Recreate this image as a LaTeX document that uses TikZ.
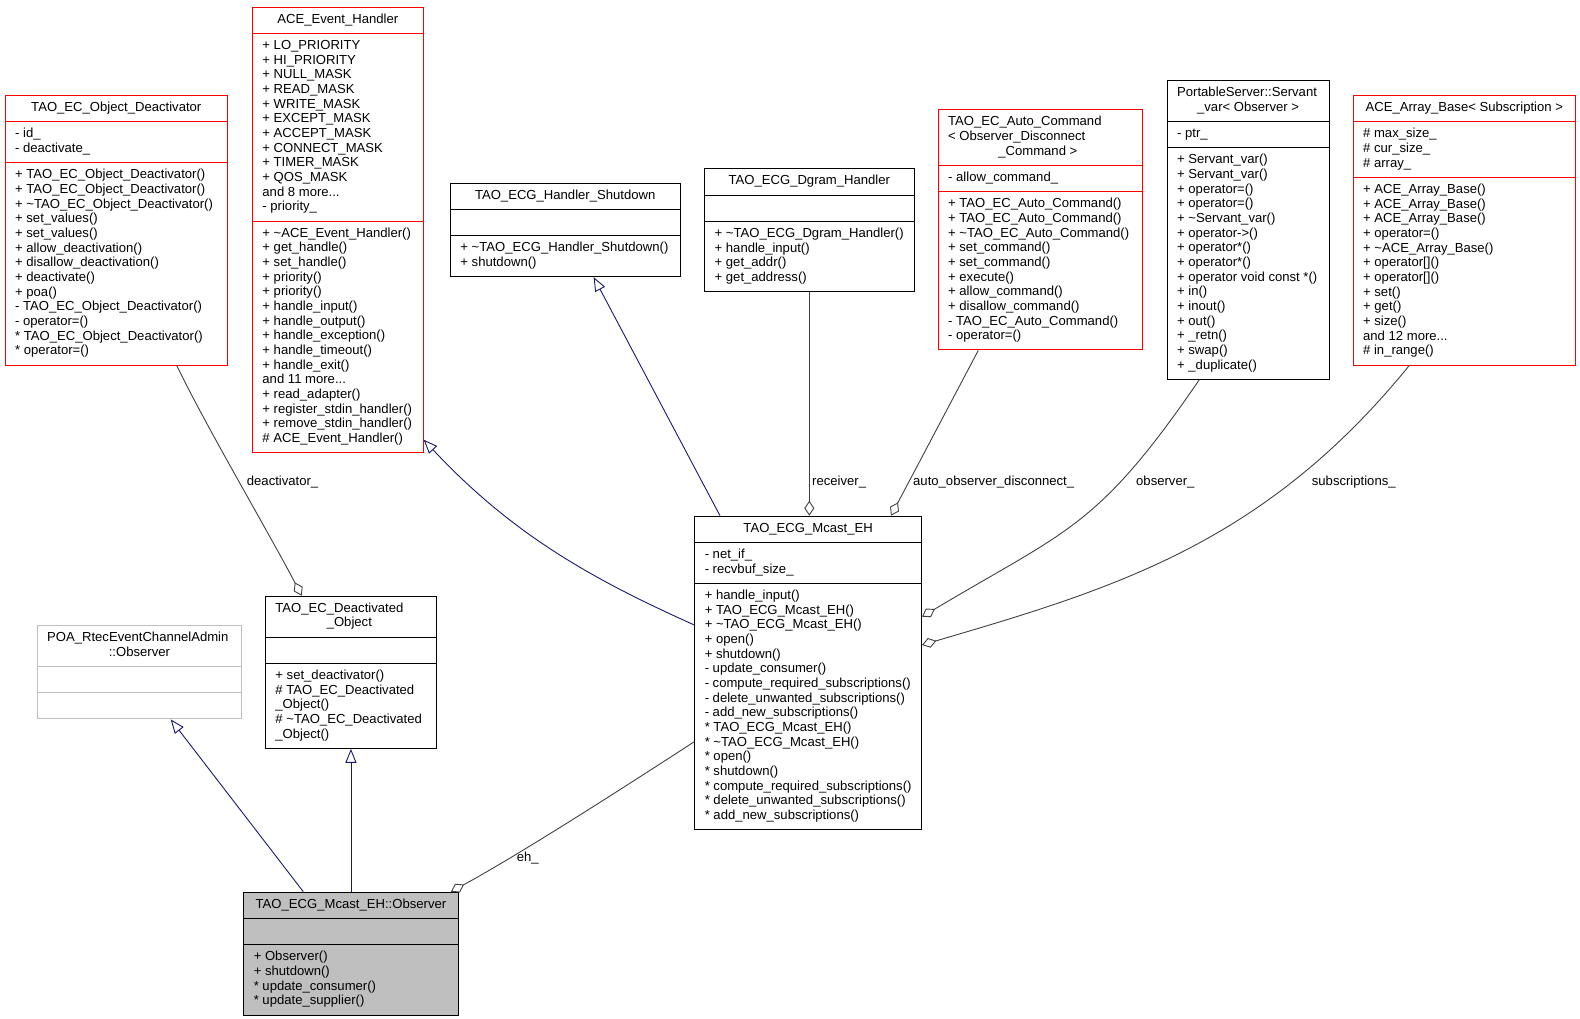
\documentclass[tikz,border=0pt]{standalone}
\usepackage{fontspec}
\setmainfont{Liberation Sans}
\usepackage{xcolor}
\usetikzlibrary{shapes.multipart,arrows.meta,positioning,calc}
\definecolor{navyedge}{HTML}{191970}
\definecolor{grayedge}{HTML}{404040}
\definecolor{lightbox}{HTML}{BFBFBF}

\begin{document}
\begin{tikzpicture}[x=1pt, y=-1pt,
    cls/.style={rectangle split, rectangle split parts=3, draw=black, line width=0.9pt, anchor=north west, align=left, inner xsep=10pt, inner ysep=5.35pt, rectangle split part align={center,left,left}, font=\fontsize{13.1}{14.67}\selectfont},
    redcls/.style={cls, draw=red},
    lbl/.style={anchor=west, inner sep=0pt, font=\fontsize{13.1}{14.67}\selectfont},
    inherit/.style={navyedge, line width=0.9pt, -{Triangle[open, length=14pt, width=11pt]}},
    member/.style={grayedge, line width=0.9pt, -{Diamond[open, length=15pt, width=10pt]}}]
    \useasboundingbox (0,0) rectangle (1580,1019);

    \node[redcls, minimum width=222.3pt] (od) at (4.7,95) {\strut TAO\_EC\_Object\_Deactivator\strut
        \nodepart{two}\strut - id\_\\- deactivate\_\strut
        \nodepart{three}\strut + TAO\_EC\_Object\_Deactivator()\\+ TAO\_EC\_Object\_Deactivator()\\+ \textasciitilde TAO\_EC\_Object\_Deactivator()\\+ set\_values()\\+ set\_values()\\+ allow\_deactivation()\\+ disallow\_deactivation()\\+ deactivate()\\+ poa()\\- TAO\_EC\_Object\_Deactivator()\\- operator=()\\{*} TAO\_EC\_Object\_Deactivator()\\{*} operator=()\strut};
    \node[redcls, minimum width=170.7pt] (eh) at (252,6.7) {\strut ACE\_Event\_Handler\strut
        \nodepart{two}\strut + LO\_PRIORITY\\+ HI\_PRIORITY\\+ NULL\_MASK\\+ READ\_MASK\\+ WRITE\_MASK\\+ EXCEPT\_MASK\\+ ACCEPT\_MASK\\+ CONNECT\_MASK\\+ TIMER\_MASK\\+ QOS\_MASK\\and 8 more...\\- priority\_\strut
        \nodepart{three}\strut + \textasciitilde ACE\_Event\_Handler()\\+ get\_handle()\\+ set\_handle()\\+ priority()\\+ priority()\\+ handle\_input()\\+ handle\_output()\\+ handle\_exception()\\+ handle\_timeout()\\+ handle\_exit()\\and 11 more...\\+ read\_adapter()\\+ register\_stdin\_handler()\\+ remove\_stdin\_handler()\\\# ACE\_Event\_Handler()\strut};
    \node[cls, minimum width=229.5pt] (hs) at (450,182.7) {\strut TAO\_ECG\_Handler\_Shutdown\strut
        \nodepart{two}\strut
        \nodepart{three}\strut + \textasciitilde TAO\_ECG\_Handler\_Shutdown()\\+ shutdown()\strut};
    \node[cls, minimum width=209.3pt] (dg) at (704.2,168.3) {\strut TAO\_ECG\_Dgram\_Handler\strut
        \nodepart{two}\strut
        \nodepart{three}\strut + \textasciitilde TAO\_ECG\_Dgram\_Handler()\\+ handle\_input()\\+ get\_addr()\\+ get\_address()\strut};
    \node[redcls, minimum width=204.3pt, rectangle split part align={left,left,left}] (ac) at (937.7,109.3) {\strut TAO\_EC\_Auto\_Command\\< Observer\_Disconnect\\\hspace*{50.2pt}\_Command >\strut
        \nodepart{two}\strut - allow\_command\_\strut
        \nodepart{three}\strut + TAO\_EC\_Auto\_Command()\\+ TAO\_EC\_Auto\_Command()\\+ \textasciitilde TAO\_EC\_Auto\_Command()\\+ set\_command()\\+ set\_command()\\+ execute()\\+ allow\_command()\\+ disallow\_command()\\- TAO\_EC\_Auto\_Command()\\- operator=()\strut};
    \node[cls, minimum width=162.3pt, rectangle split part align={left,left,left}] (sv) at (1166.7,80) {\strut PortableServer::Servant\\\hspace*{20pt}\_var< Observer >\strut
        \nodepart{two}\strut - ptr\_\strut
        \nodepart{three}\strut + Servant\_var()\\+ Servant\_var()\\+ operator=()\\+ operator=()\\+ \textasciitilde Servant\_var()\\+ operator->()\\+ operator*()\\+ operator*()\\+ operator void const *()\\+ in()\\+ inout()\\+ out()\\+ \_retn()\\+ swap()\\+ \_duplicate()\strut};
    \node[redcls, minimum width=222.3pt] (ab) at (1352.7,95) {\strut ACE\_Array\_Base< Subscription >\strut
        \nodepart{two}\strut \# max\_size\_\\\# cur\_size\_\\\# array\_\strut
        \nodepart{three}\strut + ACE\_Array\_Base()\\+ ACE\_Array\_Base()\\+ ACE\_Array\_Base()\\+ operator=()\\+ \textasciitilde ACE\_Array\_Base()\\+ operator[]()\\+ operator[]()\\+ set()\\+ get()\\+ size()\\and 12 more...\\\# in\_range()\strut};
    \node[cls, minimum width=226.7pt] (me) at (694.3,515.7) {\strut TAO\_ECG\_Mcast\_EH\strut
        \nodepart{two}\strut - net\_if\_\\- recvbuf\_size\_\strut
        \nodepart{three}\strut + handle\_input()\\+ TAO\_ECG\_Mcast\_EH()\\+ \textasciitilde TAO\_ECG\_Mcast\_EH()\\+ open()\\+ shutdown()\\- update\_consumer()\\- compute\_required\_subscriptions()\\- delete\_unwanted\_subscriptions()\\- add\_new\_subscriptions()\\{*} TAO\_ECG\_Mcast\_EH()\\{*} \textasciitilde TAO\_ECG\_Mcast\_EH()\\{*} open()\\{*} shutdown()\\{*} compute\_required\_subscriptions()\\{*} delete\_unwanted\_subscriptions()\\{*} add\_new\_subscriptions()\strut};
    \node[cls, minimum width=171pt, rectangle split part align={left,left,left}] (deo) at (265,595.7) {\strut TAO\_EC\_Deactivated\\\hspace*{51.3pt}\_Object\strut
        \nodepart{two}\strut
        \nodepart{three}\strut + set\_deactivator()\\\# TAO\_EC\_Deactivated\\\_Object()\\\# \textasciitilde TAO\_EC\_Deactivated\\\_Object()\strut};
    \node[cls, draw=lightbox, minimum width=204pt, rectangle split part align={left,left,left}] (po) at (36.7,625) {\strut POA\_RtecEventChannelAdmin\\\hspace*{61.7pt}::Observer\strut
        \nodepart{two}\strut
        \nodepart{three}\strut};
    \node[cls, fill=lightbox, minimum width=214.4pt] (mo) at (243.3,891.7) {\strut TAO\_ECG\_Mcast\_EH::Observer\strut
        \nodepart{two}\strut
        \nodepart{three}\strut + Observer()\\+ shutdown()\\{*} update\_consumer()\\{*} update\_supplier()\strut};

    \node[lbl] (l1) at (246.7,481.7) {deactivator\_};
    \node[lbl] (l2) at (812,482.5) {receiver\_};
    \node[lbl] (l3) at (913,481.7) {auto\_observer\_disconnect\_};
    \node[lbl] (l4) at (1136,481.7) {observer\_};
    \node[lbl] (l5) at (1311.7,481.7) {subscriptions\_};
    \node[lbl] (l6) at (516.7,858.3) {eh\_};

    \draw[member] ([xshift=172pt]od.south west) .. controls +(28.8,60) and +(-31.2,-60) .. ([xshift=36.7pt]deo.north west);
    \draw[inherit] ([yshift=-109.3pt]me.north west) .. controls +(-100,-45) and +(90,96.3) .. ([yshift=13.5pt]eh.south east);
    \draw[inherit] ([xshift=25.7pt]me.north west) -- ([xshift=143.6pt]hs.south west);
    \draw[member] (dg.south) -- (dg.south |- me.north);
    \draw[member] ([xshift=40.6pt]ac.south west) -- ([xshift=196.7pt]me.north west);
    \draw[member] ([xshift=32.6pt]sv.south west) .. controls +(-101.7,148.5) and +(145.9,-87.2) .. ([yshift=-101pt]me.north east);
    \draw[member] ([xshift=56.6pt]ab.south west) .. controls +(-144.9,178.5) and +(191.8,-56.4) .. ([yshift=-129.3pt]me.north east);
    \draw[inherit] ([xshift=60pt]mo.north west) -- ([xshift=134pt]po.south west);
    \draw[inherit] (mo.north -| deo.south) -- (deo.south);
    \draw[member] ([yshift=-226pt]me.north west) .. controls +(-67.1,43.6) and +(70.2,-38.2) .. ([xshift=-7.7pt]mo.north east);
\end{tikzpicture}
\end{document}
